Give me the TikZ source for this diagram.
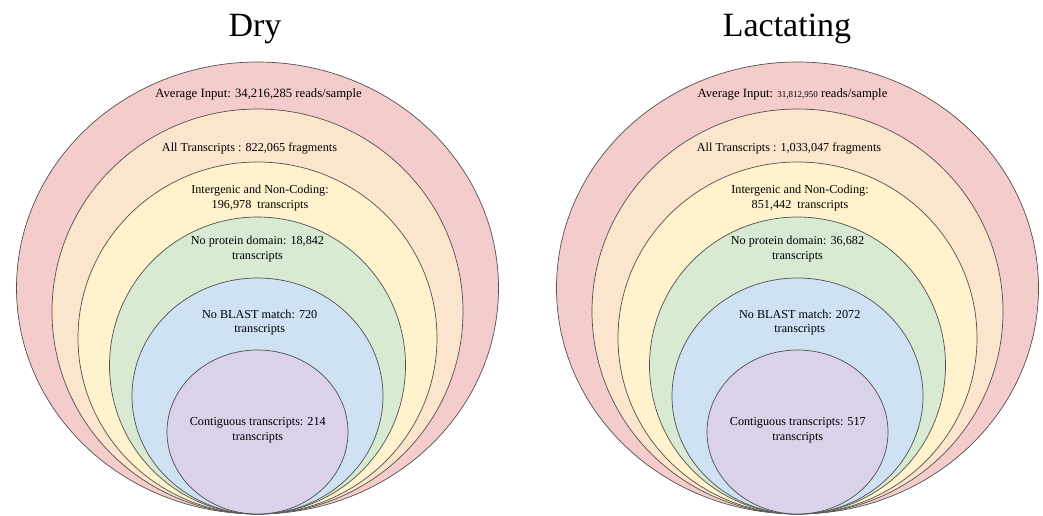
\documentclass[tikz,border=0pt]{standalone}
\usepackage{fontspec}
\setmainfont{Liberation Serif}
\newfontfamily\lblfont{Liberation Serif}
\definecolor{cred}{HTML}{F4CCCC}
\definecolor{corange}{HTML}{FCE5CD}
\definecolor{cyellow}{HTML}{FFF2CC}
\definecolor{cgreen}{HTML}{D9EAD3}
\definecolor{cblue}{HTML}{CFE2F3}
\definecolor{cpurple}{HTML}{D9D2E9}
\definecolor{cline}{HTML}{505050}
\begin{document}
\begin{tikzpicture}[x=1pt,y=-1pt,
  ring/.style={draw=cline, line width=0.7pt},
  lbl/.style={align=center, inner sep=0pt, font=\lblfont\fontsize{12.2}{14.5}\selectfont},
  biglbl/.style={align=center, inner sep=0pt, font=\lblfont\fontsize{12.7}{14.5}\selectfont},
  ttl/.style={inner sep=0pt, anchor=base, font=\lblfont\fontsize{34}{40}\selectfont}]
\useasboundingbox (0,0) rectangle (1043,515);
% rings
\foreach \dx in {0,540}{
  \foreach \c/\cy/\rx/\ry in {cred/288/241/226, corange/311.5/205.5/202.5, cyellow/338/179.5/176, cgreen/365.5/148/148.5, cblue/396/125.5/118, cpurple/432/90.5/82}
    \draw[ring, fill=\c] (257.5+\dx,\cy) ellipse [x radius=\rx pt, y radius=\ry pt];
}
% titles
\node[ttl] (tdry) at (255,36) {Dry};
\node[ttl] (tlac) at (787,36) {Lactating};
% Dry labels
\node[biglbl, anchor=base] (d1) at (258.5,97.5) {Average Input: 34,216,285 reads/sample};
\node[lbl, anchor=base] (d2) at (249.5,151.5) {All Transcripts : 822,065 fragments};
\node[lbl] (d3) at (260,197.9) {Intergenic and Non-Coding:\\196,978\ \ transcripts};
\node[lbl] (d4) at (257.5,248.9) {No protein domain: 18,842\\transcripts};
\node[lbl] (d5) at (259.7,322.4) {No BLAST match: 720\\transcripts};
\node[lbl] (d6) at (257.8,430.4) {Contiguous transcripts: 214\\transcripts};
% Lactating labels
\node[biglbl, anchor=base] (l1) at (792.5,97.5) {Average Input: {\fontsize{9}{10}\selectfont 31,812,950} reads/sample};
\node[lbl, anchor=base] (l2) at (789,151.5) {All Transcripts : 1,033,047 fragments};
\node[lbl] (l3) at (800,197.9) {Intergenic and Non-Coding:\\851,442\ \ transcripts};
\node[lbl] (l4) at (797.5,248.9) {No protein domain: 36,682\\transcripts};
\node[lbl] (l5) at (799.7,322.4) {No BLAST match: 2072\\transcripts};
\node[lbl] (l6) at (797.8,430.4) {Contiguous transcripts: 517\\transcripts};
\end{tikzpicture}
\end{document}
